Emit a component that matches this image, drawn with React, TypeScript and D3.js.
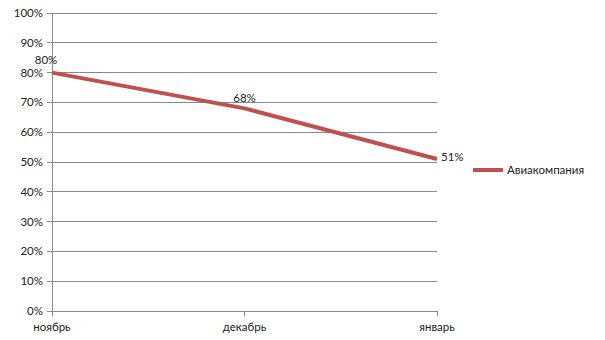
import React from "react";
import * as d3 from "d3";

const categories: string[] = ["ноябрь", "декабрь", "январь"];
const values: number[] = [80, 68, 51];
const yTicks: number[] = [0, 10, 20, 30, 40, 50, 60, 70, 80, 90, 100];
const seriesName = "Авиакомпания";

export default function App() {
  const W = 605, H = 340;
  const left = 52, right = 437, top = 13, bottom = 311;
  const x = d3.scalePoint<string>().domain(categories).range([left, right]);
  const y = d3.scaleLinear().domain([0, 100]).range([bottom, top]);
  const line = d3
    .line<number>()
    .x((_, i) => x(categories[i]) as number)
    .y((d) => y(d));
  const font = "Lato, 'Open Sans', sans-serif";
  const grid = "#898989";
  const color = "#c0504d";
  const labelPos = [
    { dx: -6, dy: -13, anchor: "middle" },
    { dx: 0, dy: -10, anchor: "middle" },
    { dx: 4, dy: -2, anchor: "start" },
  ];
  return (
    <svg
      width={W}
      height={H}
      style={{ position: "absolute", left: 0, top: 0, background: "#fff" }}
      fontFamily={font}
    >
      {yTicks.map((t) => (
        <g key={t}>
          <line x1={left - 5} x2={right} y1={y(t)} y2={y(t)} stroke={grid} strokeWidth={1} shapeRendering="crispEdges" />
          <text x={left - 9} y={y(t)} dy="0.35em" textAnchor="end" fontSize={11.5} fill="#222">
            {t}%
          </text>
        </g>
      ))}
      <line x1={left} x2={left} y1={top} y2={bottom + 5} stroke={grid} shapeRendering="crispEdges" />
      {categories.map((c) => (
        <g key={c}>
          <line x1={x(c)} x2={x(c)} y1={bottom} y2={bottom + 5} stroke={grid} shapeRendering="crispEdges" />
          <text x={x(c)} y={bottom + 16} dy="0.35em" textAnchor="middle" fontSize={11.5} fill="#222">
            {c}
          </text>
        </g>
      ))}
      <path d={line(values) || ""} fill="none" stroke={color} strokeWidth={4} strokeLinejoin="round" />
      {values.map((v, i) => (
        <text
          key={i}
          x={(x(categories[i]) as number) + labelPos[i].dx}
          y={y(v) + labelPos[i].dy}
          dy="0.35em"
          textAnchor={labelPos[i].anchor}
          fontSize={11.5}
          fill="#222"
        >
          {v}%
        </text>
      ))}
      <line x1={473} x2={503} y1={170} y2={170} stroke={color} strokeWidth={4} />
      <text x={507} y={170} dy="0.35em" fontSize={11.5} fill="#222">
        {seriesName}
      </text>
    </svg>
  );
}
